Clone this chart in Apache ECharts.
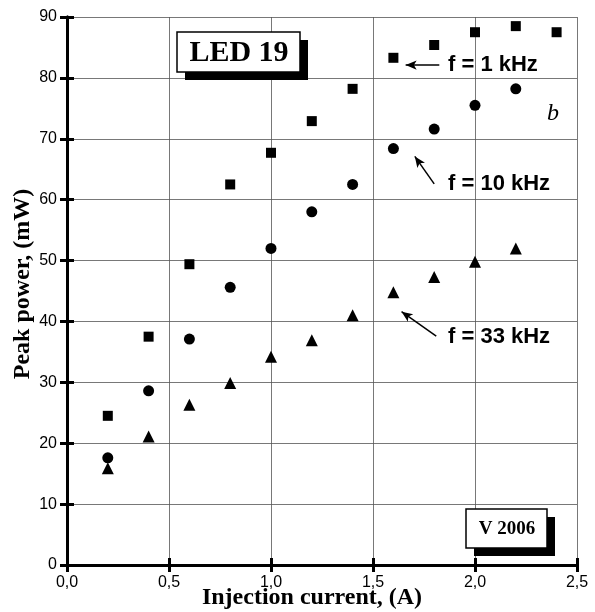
<!DOCTYPE html>
<html>
<head>
<meta charset="utf-8">
<script src="https://cdn.jsdelivr.net/npm/echarts@6/dist/echarts.min.js"></script>
<style>
  html, body { margin: 0; padding: 0; background: #fff; }
  #chart { width: 595px; height: 612px; }
</style>
</head>
<body>
<div id="chart"></div>
<script>
// injection current, A
var current = [0.2, 0.4, 0.6, 0.8, 1.0, 1.2, 1.4, 1.6, 1.8, 2.0, 2.2, 2.4];
// peak power, mW
var power1k  = [24.5, 37.5, 49.4, 62.5, 67.7, 72.9, 78.2, 83.3, 85.4, 87.5, 88.5, 87.5];
var power10k = [17.6, 28.6, 37.1, 45.6, 52.0, 58.0, 62.5, 68.4, 71.6, 75.5, 78.2];
var power33k = [15.9, 21.1, 26.3, 29.9, 34.2, 36.9, 41.0, 44.8, 47.3, 49.8, 52.0];

function pairs(ys) {
  var out = [];
  for (var i = 0; i < ys.length; i++) out.push([current[i], ys[i]]);
  return out;
}

var sans = 'Liberation Sans';
var serif = 'Liberation Serif';

var chart = echarts.init(document.getElementById('chart'));

var gridLine = { show: true, lineStyle: { color: '#555', width: 0.8 } };
var frame = { color: '#000', width: 3 };
var tick = { inside: true, length: 7, lineStyle: { color: '#000', width: 3 } };

var arrowLine = function (from, to) {
  return [{ coord: from }, { coord: to }];
};

chart.setOption({
  animation: false,
  backgroundColor: '#fff',
  grid: { left: 67, right: 18, top: 17, bottom: 47 },
  xAxis: [{
    type: 'value', min: 0, max: 2.5, interval: 0.5,
    axisLine: { onZero: false, lineStyle: frame },
    axisTick: tick,
    axisLabel: {
      color: '#000', fontFamily: sans, fontSize: 16, margin: 10,
      formatter: function (v) { return v.toFixed(1).replace('.', ','); }
    },
    splitLine: gridLine
  }, {
    type: 'value', position: 'top', min: 0, max: 2.5, interval: 0.5,
    axisLine: { show: true, lineStyle: frame },
    axisTick: tick,
    axisLabel: { show: false }, splitLine: { show: false }
  }],
  yAxis: [{
    type: 'value', min: 0, max: 90, interval: 10,
    axisLine: { show: true, lineStyle: frame },
    axisTick: tick,
    axisLabel: { color: '#000', fontFamily: sans, fontSize: 16, margin: 10 },
    splitLine: gridLine
  }, {
    type: 'value', position: 'right', min: 0, max: 90, interval: 10,
    axisLine: { show: true, lineStyle: frame },
    axisTick: tick,
    axisLabel: { show: false }, splitLine: { show: false }
  }],
  series: [{
    name: 'f = 1 kHz', type: 'scatter', symbol: 'rect', symbolSize: 10,
    itemStyle: { color: '#000', opacity: 1 }, data: pairs(power1k),
    markLine: {
      silent: true, symbol: ['none', 'arrow'], symbolSize: [7, 11],
      lineStyle: { color: '#000', width: 1.5, type: 'solid', opacity: 1 }, label: { show: false },
      data: [
        arrowLine([1.825, 82.1], [1.66, 82.1]),
        arrowLine([1.80, 62.6], [1.705, 67.1]),
        arrowLine([1.81, 37.6], [1.64, 41.6])
      ]
    }
  }, {
    name: 'f = 10 kHz', type: 'scatter', symbol: 'circle', symbolSize: 11,
    itemStyle: { color: '#000', opacity: 1 }, data: pairs(power10k)
  }, {
    name: 'f = 33 kHz', type: 'scatter', symbol: 'triangle', symbolSize: 12,
    itemStyle: { color: '#000', opacity: 1 }, data: pairs(power33k)
  }],
  graphic: [
    // axis titles
    { type: 'text', x: 312, y: 598, z: 12,
      style: { text: 'Injection current, (A)', fill: '#000', font: 'bold 24px "Liberation Serif"', align: 'center', verticalAlign: 'middle' } },
    { type: 'text', x: 23, y: 284, rotation: Math.PI / 2, z: 12,
      style: { text: 'Peak power, (mW)', fill: '#000', font: 'bold 24px "Liberation Serif"', align: 'center', verticalAlign: 'middle' } },
    // LED 19 box with shadow
    { type: 'rect', shape: { x: 185, y: 40, width: 123, height: 40 }, style: { fill: '#000' }, z: 10 },
    { type: 'rect', shape: { x: 177, y: 32, width: 123, height: 40 }, style: { fill: '#fff', stroke: '#000', lineWidth: 1.5 }, z: 11 },
    { type: 'text', x: 239, y: 53, z: 12,
      style: { text: 'LED 19', fill: '#000', font: 'bold 30px "Liberation Serif"', align: 'center', verticalAlign: 'middle' } },
    // V 2006 box with shadow
    { type: 'rect', shape: { x: 474, y: 517, width: 81, height: 39 }, style: { fill: '#000' }, z: 10 },
    { type: 'rect', shape: { x: 466, y: 509, width: 81, height: 39 }, style: { fill: '#fff', stroke: '#000', lineWidth: 1.5 }, z: 11 },
    { type: 'text', x: 507, y: 529, z: 12,
      style: { text: 'V 2006', fill: '#000', font: 'bold 19px "Liberation Serif"', align: 'center', verticalAlign: 'middle' } },
    // frequency labels
    { type: 'text', x: 448, y: 65, z: 12,
      style: { text: 'f = 1 kHz', fill: '#000', font: 'bold 22px "Liberation Sans"', verticalAlign: 'middle' } },
    { type: 'text', x: 448, y: 184, z: 12,
      style: { text: 'f = 10 kHz', fill: '#000', font: 'bold 22px "Liberation Sans"', verticalAlign: 'middle' } },
    { type: 'text', x: 448, y: 337, z: 12,
      style: { text: 'f = 33 kHz', fill: '#000', font: 'bold 22px "Liberation Sans"', verticalAlign: 'middle' } },
    { type: 'text', x: 553, y: 114, z: 12,
      style: { text: 'b', fill: '#000', font: 'italic 24px "Liberation Serif"', align: 'center', verticalAlign: 'middle' } }
  ]
});
</script>
</body>
</html>
